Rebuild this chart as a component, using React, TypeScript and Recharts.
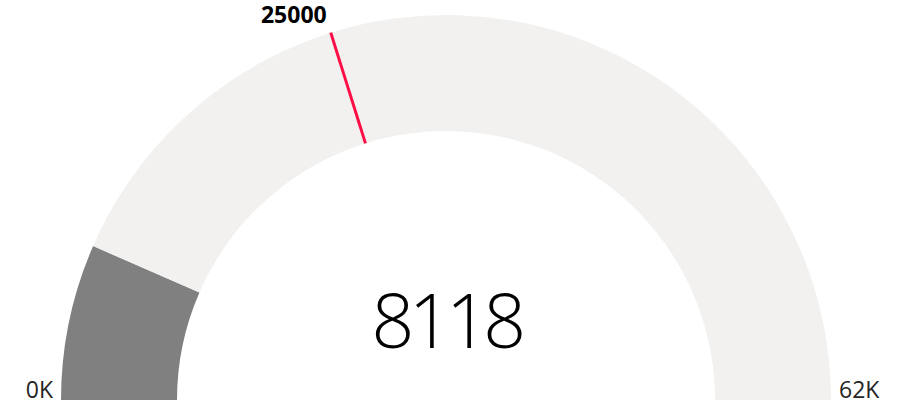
import { PieChart, Pie, Cell, Customized } from 'recharts';

const minValue = 0;
const maxValue = 62000;
const currentValue = 8118;
const targetValue = 25000;
const minLabel = '0K';
const maxLabel = '62K';

const gaugeData = [
  { name: 'value', value: currentValue - minValue },
  { name: 'rest', value: maxValue - currentValue },
];
const gaugeColors = ['#808080', '#F2F1F0'];

const CX = 446;
const CY = 400;
const INNER = 269;
const OUTER = 385;
const FONT = '"Segoe UI", "Open Sans", "Noto Sans", sans-serif';

// angle in degrees for a value, same mapping as the pie (180 -> 0)
const toAngle = (v: number) => 180 - (180 * (v - minValue)) / (maxValue - minValue);

function TargetMark() {
  const rad = (toAngle(targetValue) * Math.PI) / 180;
  const x1 = CX + INNER * Math.cos(rad);
  const y1 = CY - INNER * Math.sin(rad);
  const x2 = CX + OUTER * Math.cos(rad);
  const y2 = CY - OUTER * Math.sin(rad);
  return (
    <g>
      <line x1={x1} y1={y1} x2={x2} y2={y2} stroke="#FF0D45" strokeWidth={3} />
      <text x={x2 - 4} y={y2 - 9.5} textAnchor="end" fontFamily={FONT} fontWeight={700} fontSize={23} fill="#000">
        {targetValue}
      </text>
    </g>
  );
}

function Labels() {
  return (
    <g fontFamily={FONT}>
      <text x={CX} y={CY - 52} textAnchor="middle" fontSize={75} fontWeight={300} letterSpacing={-5.5} fill="#000">
        {currentValue}
      </text>
      <text x={CX - OUTER - 8} y={CY - 2} textAnchor="end" fontSize={23} fill="#252423">
        {minLabel}
      </text>
      <text x={CX + OUTER + 8} y={CY - 2} textAnchor="start" fontSize={23} fill="#252423">
        {maxLabel}
      </text>
    </g>
  );
}

export default function App() {
  return (
    <div style={{ position: 'fixed', left: 0, top: 0, width: 904, height: 406, background: '#fff' }}>
      <PieChart width={904} height={406} margin={{ top: 0, right: 0, bottom: 0, left: 0 }}>
        <Pie
          data={gaugeData}
          dataKey="value"
          cx={CX}
          cy={CY}
          startAngle={180}
          endAngle={0}
          innerRadius={INNER}
          outerRadius={OUTER}
          stroke="none"
          isAnimationActive={false}
        >
          {gaugeData.map((d, i) => (
            <Cell key={d.name} fill={gaugeColors[i]} />
          ))}
        </Pie>
        <Customized component={<Labels />} />
      </PieChart>
      {/* overlay so the target mark sits above the pie sectors */}
      <div style={{ position: 'absolute', left: 0, top: 0 }}>
        <PieChart width={904} height={406} margin={{ top: 0, right: 0, bottom: 0, left: 0 }}>
          <Customized component={<TargetMark />} />
        </PieChart>
      </div>
    </div>
  );
}
